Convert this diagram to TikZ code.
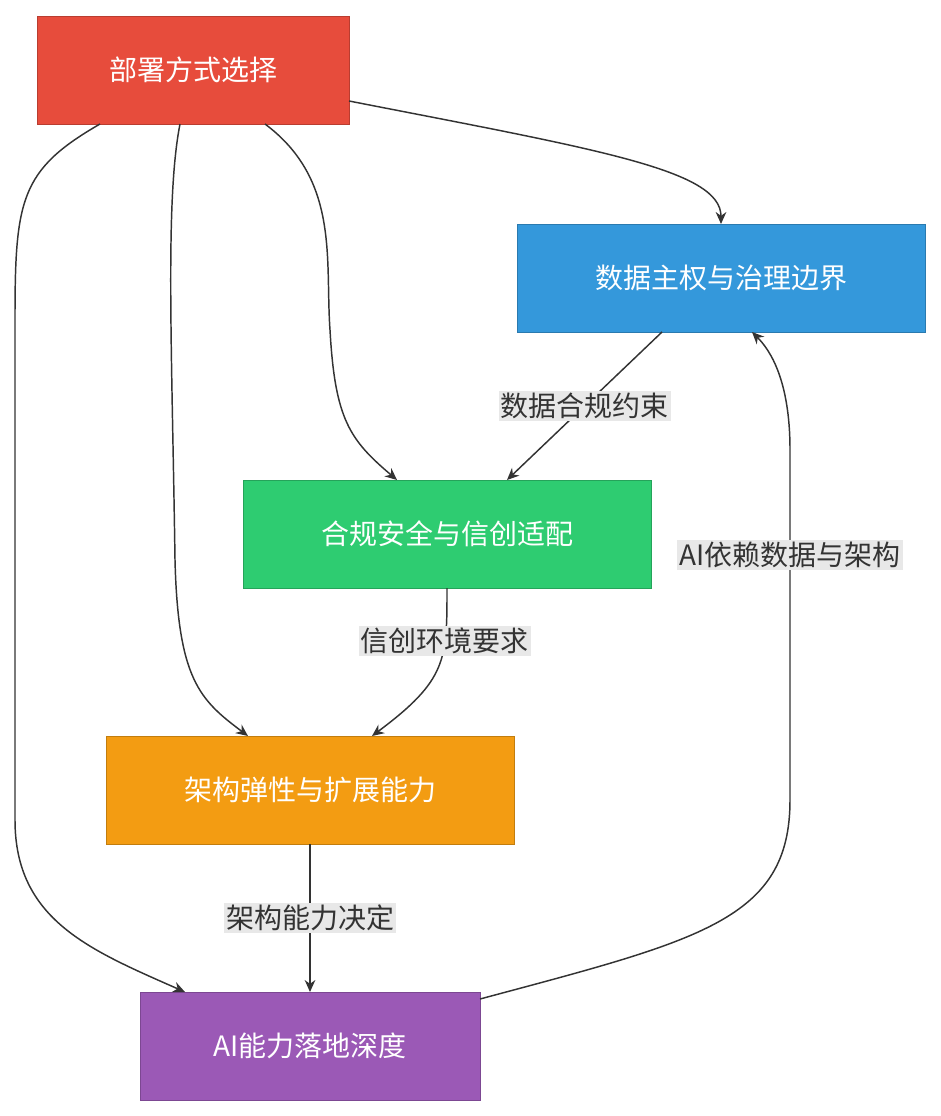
\documentclass[tikz,border=0pt]{standalone}
\usepackage{fontspec}
\setmainfont{Noto Sans CJK SC}
\usetikzlibrary{arrows.meta}
\definecolor{cr}{HTML}{E74C3C}\definecolor{cb}{HTML}{3498DB}\definecolor{cg}{HTML}{2ECC71}
\definecolor{co}{HTML}{F39C12}\definecolor{cp}{HTML}{9B59B6}\definecolor{ln}{HTML}{333333}
\begin{document}
\begin{tikzpicture}[x=0.75pt,y=-0.75pt,
 box/.style={draw=#1!80!black,fill=#1,text=white,minimum height=81pt,inner sep=0pt,font=\fontsize{21}{24}\selectfont},
 e/.style={draw=ln,line width=1.1pt,-{Stealth[length=9pt,width=8pt]}},
 lab/.style={fill=gray!18,text=ln,inner sep=1.5pt,font=\fontsize{21}{24}\selectfont}]
\useasboundingbox (0,0) rectangle (941,1116);
\node[box=cr,minimum width=234pt] (A) at (193,70) {部署方式选择};
\node[box=cb,minimum width=306pt] (B) at (721,278) {数据主权与治理边界};
\node[box=cg,minimum width=306pt] (C) at (447,534) {合规安全与信创适配};
\node[box=co,minimum width=306pt] (D) at (310,790) {架构弹性与扩展能力};
\node[box=cp,minimum width=255pt] (E) at (310,1046) {AI能力落地深度};
\coordinate (a1) at (349,101);\coordinate (b1) at (721,224);
\coordinate (a2) at (265,124);\coordinate (c1) at (397,480);
\coordinate (a3) at (180,124);\coordinate (d1) at (248,736);
\coordinate (a4) at (100,124);\coordinate (e1) at (185,992);
\coordinate (b2) at (662,332);\coordinate (c2) at (507,480);
\coordinate (c3) at (447,588);\coordinate (d2) at (372,736);
\coordinate (d3) at (310,844);\coordinate (e2) at (310,992);
\coordinate (e3) at (480,999);\coordinate (b3) at (752,332);
\draw[e] (a1) .. controls (600,150) and (721,170) .. (b1);
\draw[e] (a2) .. controls (340,180) and (325,260) .. (330,330) .. controls (335,420) and (350,440) .. (c1);
\draw[e] (a3) .. controls (165,200) and (172,350) .. (175,560) .. controls (178,680) and (200,700) .. (d1);
\draw[e] (a4) .. controls (20,170) and (15,200) .. (15,320) -- (15,820) .. controls (15,920) and (90,950) .. (e1);
\draw[e] (b2) -- node[lab]{数据合规约束} (c2);
\draw[e] (c3) .. controls (447,660) and (447,680) .. node[lab,pos=0.3]{信创环境要求} (d2);
\draw[e] (d3) -- node[lab]{架构能力决定} (e2);
\draw[e] (e3) .. controls (700,940) and (790,920) .. (790,800) -- node[lab,pos=0.7]{AI依赖数据与架构} (790,450) .. controls (790,380) and (770,350) .. (b3);
\end{tikzpicture}
\end{document}
